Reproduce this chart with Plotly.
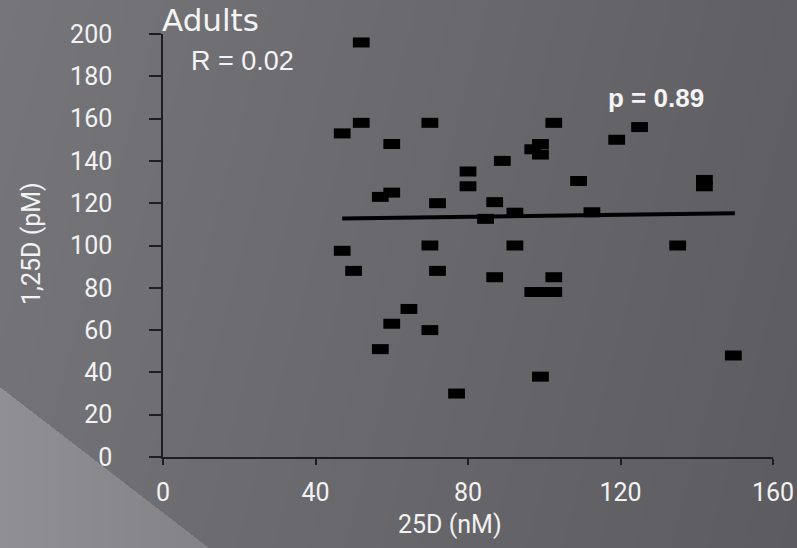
import base64
import struct
import zlib

import numpy as np
import plotly.graph_objects as go

# ---------------- data ----------------
x_25d = [52, 52, 47, 60, 70, 80, 80, 57, 60, 72,
         47, 50, 70, 72, 64.5, 60, 70, 57, 77,
         102.5, 125, 119, 99, 99, 97, 89, 109, 142, 142,
         87, 92.3, 84.6, 112.5, 92.3, 135, 87, 102.5,
         97, 100, 102.5, 99, 149.6]
y_125d = [196, 158, 153, 148, 158, 135, 128, 123, 125, 120,
          97.5, 88, 100, 88, 70, 63, 60, 51, 30,
          158, 156, 150, 148, 143, 145.5, 140, 130.5, 131, 128,
          120.5, 115.5, 112.6, 115.7, 100, 100, 85, 85,
          78, 78, 78, 38, 48]
trend_x = [47, 150]
trend_y = [112.8, 115.2]

x_ticks = [0, 40, 80, 120, 160]
y_ticks = [0, 20, 40, 60, 80, 100, 120, 140, 160, 180, 200]

title_text = "Adults"
r_text = "R = 0.02"
p_text = "p = 0.89"
x_title = "25D (nM)"
y_title = "1,25D (pM)"

# ---------------- background picture (slide gradient) ----------------
W, H = 797, 548
ML, MR, MT, MB = 163, 24, 34, 91
PW, PH = W - ML - MR, H - MT - MB

xs = np.arange(W)[None, :].astype(float)
ys = np.arange(H)[:, None].astype(float)
v = 117 - 22 * xs / W - 4 * ys / H
tri = ys > 387 + 0.77 * xs
v = np.where(tri, 143 - 0.06 * xs, v)
img = np.stack([v + 1, v, v + 5], axis=-1)
img = np.clip(np.round(img), 0, 255).astype(np.int16)


def to_png(a):
    h, w, _ = a.shape
    up = np.empty_like(a)
    up[0] = a[0]
    up[1:] = a[1:] - a[:-1]
    up = (up % 256).astype(np.uint8).reshape(h, -1)
    rows = np.concatenate([np.full((h, 1), 2, np.uint8), up], axis=1)
    data = zlib.compress(rows.tobytes(), 9)

    def chunk(t, d):
        return (struct.pack(">I", len(d)) + t + d
                + struct.pack(">I", zlib.crc32(t + d) & 0xFFFFFFFF))

    return (b"\x89PNG\r\n\x1a\n"
            + chunk(b"IHDR", struct.pack(">IIBBBBB", w, h, 8, 2, 0, 0, 0))
            + chunk(b"IDAT", data) + chunk(b"IEND", b""))


bg_uri = "data:image/png;base64," + base64.b64encode(to_png(img)).decode()

# ---------------- figure ----------------
fig = go.Figure()
fig.add_trace(go.Scatter(
    x=x_25d, y=y_125d, mode="markers",
    marker=dict(symbol="line-ew", size=12,
                line=dict(width=10, color="#000000")),
    hoverinfo="x+y", showlegend=False, cliponaxis=False,
))
fig.add_trace(go.Scatter(
    x=trend_x, y=trend_y, mode="lines",
    line=dict(color="#000000", width=4),
    hoverinfo="skip", showlegend=False,
))

tick_font = dict(family="Roboto, sans-serif", size=25, color="#f2f2f2")
axis_common = dict(showgrid=False, zeroline=False, showline=True,
                   linecolor="#1e1e1e", linewidth=1.5, ticks="outside",
                   tickcolor="#1e1e1e", tickwidth=1.5, tickfont=tick_font,
                   fixedrange=True, automargin=False)

fig.update_layout(
    width=W, height=H, autosize=False,
    margin=dict(l=ML, r=MR, t=MT, b=MB, pad=0, autoexpand=False),
    paper_bgcolor="#666569", plot_bgcolor="rgba(0,0,0,0)",
    xaxis=dict(range=[0, 160], tickvals=x_ticks, ticklen=6,
               ticklabelstandoff=6, **axis_common),
    yaxis=dict(range=[0, 200], tickvals=y_ticks, ticklen=12,
               ticklabelstandoff=32, **axis_common),
    images=[dict(source=bg_uri, xref="paper", yref="paper",
                 x=-ML / PW, y=1 + MT / PH, sizex=W / PW, sizey=H / PH,
                 xanchor="left", yanchor="top", sizing="stretch",
                 layer="below")],
    showlegend=False,
)


def px_x(p):
    return (p - ML) / PW


def px_y(p):
    return (MT + PH - p) / PH


white = "#f4f4f4"
fig.add_annotation(text=title_text, xref="paper", yref="paper",
                   x=px_x(160), y=px_y(20), xanchor="left", yanchor="middle",
                   showarrow=False,
                   font=dict(family="DejaVu Sans", size=31, color=white))
fig.add_annotation(text=r_text, xref="paper", yref="paper",
                   x=px_x(189), y=px_y(61), xanchor="left", yanchor="middle",
                   showarrow=False,
                   font=dict(family="Liberation Sans", size=27, color=white))
fig.add_annotation(text="<b>" + p_text + "</b>", xref="paper", yref="paper",
                   x=px_x(606), y=px_y(98), xanchor="left", yanchor="middle",
                   showarrow=False,
                   font=dict(family="Liberation Sans", size=26, color=white))
fig.add_annotation(text=x_title, xref="paper", yref="paper",
                   x=px_x(450), y=px_y(524), xanchor="center",
                   yanchor="middle", showarrow=False, font=tick_font)
fig.add_annotation(text=y_title, xref="paper", yref="paper",
                   x=px_x(31), y=px_y(244), xanchor="center",
                   yanchor="middle", textangle=-90, showarrow=False,
                   font=tick_font)

fig.write_html("out.html")
